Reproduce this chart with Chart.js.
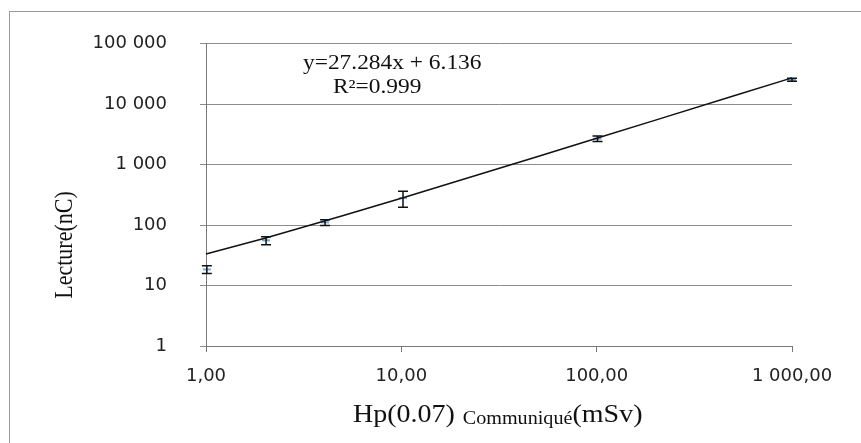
<!DOCTYPE html>
<html>
<head>
<meta charset="utf-8">
<script src="https://cdn.jsdelivr.net/npm/chart.js@4.4.0/dist/chart.umd.min.js"></script>
<style>
  body { margin: 0; background: #fff; }
  #wrap { width: 861px; height: 443px; }
</style>
</head>
<body>
<div id="wrap"><canvas id="calibChart" width="861" height="443"></canvas></div>
<script>
// Measured points: Hp(0.07) communiqué (mSv) vs lecture (nC)
const hpValues = [1.01, 2.03, 4.07, 10.2, 101, 1000];
const lectureValues = [18.5, 56, 111, 280, 2690, 25400];
const lectureErrors = [2.7, 8.5, 12, 83, 280, 1500];

// Trend line read along the drawn fit
const trendX = [1, 2, 5, 10, 20, 50, 100, 200, 500, 1000];
const trendY = [33.4, 60.7, 142.6, 279, 552, 1370, 2735, 5463, 13648, 27290];

const xTickValues = [1, 10, 100, 1000];
const xTickLabels = ['1,00', '10,00', '100,00', '1 000,00'];
const yTickValues = [1, 10, 100, 1000, 10000, 100000];
const yTickLabels = ['1', '10', '100', '1 000', '10 000', '100 000'];

const equationText = 'y=27.284x + 6.136';
const r2Text = 'R²=0.999';

const serif = '"Liberation Serif", "DejaVu Serif", serif';

// frame around the whole chart
const framePlugin = {
    id: 'frame',
    beforeDraw(chart) {
        const ctx = chart.ctx;
        ctx.save();
        ctx.strokeStyle = '#9a9a9a';
        ctx.lineWidth = 1;
        ctx.strokeRect(9.5, 11.5, 1000, 1000);
        ctx.restore();
    }
};

// vertical error bars
const errorBarPlugin = {
    id: 'errorBars',
    afterDatasetsDraw(chart) {
        const ctx = chart.ctx;
        const xs = chart.scales.x, ys = chart.scales.y;
        ctx.save();
        ctx.strokeStyle = '#111';
        ctx.lineWidth = 1.5;
        hpValues.forEach((hp, i) => {
            const x = xs.getPixelForValue(hp);
            const top = ys.getPixelForValue(lectureValues[i] + lectureErrors[i]);
            const bot = ys.getPixelForValue(lectureValues[i] - lectureErrors[i]);
            ctx.beginPath();
            ctx.moveTo(x, top); ctx.lineTo(x, bot);
            ctx.moveTo(x - 5, top); ctx.lineTo(x + 5, top);
            ctx.moveTo(x - 5, bot); ctx.lineTo(x + 5, bot);
            ctx.stroke();
        });
        ctx.restore();
    }
};

// axis titles and equation (serif, like the original)
const textPlugin = {
    id: 'texts',
    afterDraw(chart) {
        const ctx = chart.ctx;
        ctx.save();
        ctx.fillStyle = '#111';
        ctx.textBaseline = 'alphabetic';

        // equation
        ctx.save();
        ctx.translate(303, 69);
        ctx.scale(1.17, 1);
        ctx.font = '20px ' + serif;
        ctx.fillText(equationText, 0, 0);
        ctx.restore();
        ctx.save();
        ctx.translate(333, 93);
        ctx.scale(1.17, 1);
        ctx.font = '20px ' + serif;
        ctx.fillText(r2Text, 0, 0);
        ctx.restore();

        // x title with subscript
        ctx.save();
        ctx.translate(353, 422);
        ctx.scale(1.12, 1);
        let cx = 0;
        ctx.font = '25px ' + serif;
        ctx.fillText('Hp(0.07)', cx, 0);
        cx += ctx.measureText('Hp(0.07)').width + 7;
        ctx.font = '18px ' + serif;
        ctx.fillText('Communiqué', cx, 2);
        cx += ctx.measureText('Communiqué').width;
        ctx.font = '25px ' + serif;
        ctx.fillText('(mSv)', cx, 0);
        ctx.restore();

        // y title
        ctx.save();
        ctx.translate(72, 245);
        ctx.rotate(-Math.PI / 2);
        ctx.scale(1, 1.15);
        ctx.font = '22px ' + serif;
        ctx.textAlign = 'center';
        ctx.fillText('Lecture(nC)', 0, 0);
        ctx.restore();

        ctx.restore();
    }
};

new Chart(document.getElementById('calibChart'), {
    type: 'scatter',
    data: {
        datasets: [{
            label: 'Lecture',
            data: hpValues.map((v, i) => ({ x: v, y: lectureValues[i] })),
            pointStyle: 'line',
            pointRadius: 4,
            borderColor: '#6fa8dc',
            borderWidth: 2,
            clip: false,
            order: 2
        }, {
            label: 'Tendance',
            type: 'line',
            data: trendX.map((v, i) => ({ x: v, y: trendY[i] })),
            borderColor: '#111',
            borderWidth: 1.5,
            pointRadius: 0,
            tension: 0,
            clip: false,
            order: 1
        }]
    },
    options: {
        responsive: false,
        animation: false,
        layout: { padding: { top: 43, right: 69, left: 0, bottom: 0 } },
        plugins: {
            legend: { display: false },
            tooltip: { enabled: false }
        },
        scales: {
            x: {
                type: 'logarithmic',
                min: 1,
                max: 1000,
                afterBuildTicks: scale => { scale.ticks = xTickValues.map(v => ({ value: v })); },
                afterFit: scale => { scale.height = 97; },
                grid: { drawOnChartArea: false, tickLength: 6, color: '#777' },
                border: { display: true, color: '#777', width: 1 },
                ticks: {
                    padding: 14,
                    maxRotation: 0,
                    color: '#222',
                    font: { family: '"DejaVu Sans"', size: 18 },
                    callback: (value, index) => xTickLabels[index]
                }
            },
            y: {
                type: 'logarithmic',
                min: 1,
                max: 100000,
                afterBuildTicks: scale => { scale.ticks = yTickValues.map(v => ({ value: v })); },
                afterFit: scale => { scale.width = 206; },
                grid: { drawOnChartArea: true, tickLength: 6, color: '#8c8c8c' },
                border: { display: true, color: '#777', width: 1 },
                ticks: {
                    padding: 33,
                    color: '#222',
                    font: { family: '"DejaVu Sans"', size: 18 },
                    callback: (value, index) => yTickLabels[index]
                }
            }
        }
    },
    plugins: [framePlugin, errorBarPlugin, textPlugin]
});
</script>
</body>
</html>
